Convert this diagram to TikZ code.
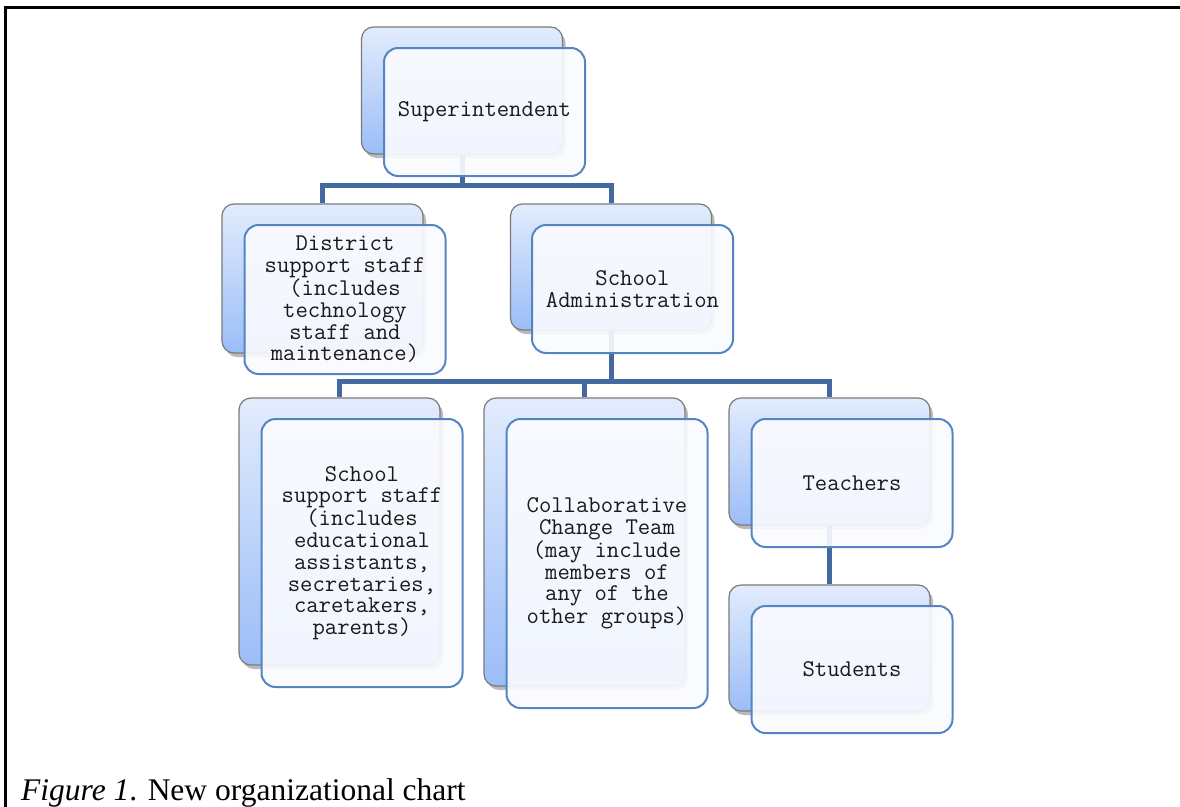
\documentclass[tikz,border=0pt]{standalone}
\usepackage{fontspec}
\setmainfont{Liberation Serif}
\usetikzlibrary{shadows}
\pgfdeclarelayer{bg}
\pgfsetlayers{bg,main}
\definecolor{conn}{HTML}{44699F}
\definecolor{backtop}{HTML}{E2ECFD}
\definecolor{backbot}{HTML}{9BBDF7}
\definecolor{backedge}{HTML}{7A7A7A}
\definecolor{frontedge}{HTML}{5485C2}
\definecolor{frontfill}{HTML}{FAFBFF}
\definecolor{txt}{HTML}{1A1A1A}
\tikzset{
  backbox/.style={draw=backedge, line width=1.2pt, rounded corners=12pt,
    top color=backtop, bottom color=backbot, minimum width=201pt,
    inner sep=0pt,
    drop shadow={shadow xshift=3pt, shadow yshift=-4pt, opacity=0.45, fill=black!60}},
  frontbox/.style={draw=frontedge, line width=2pt, rounded corners=14pt,
    fill=frontfill, fill opacity=0.91, text opacity=1, minimum width=201pt,
    inner sep=0pt, align=center, text=txt,
    font=\ttfamily\fontsize{24}{21.7}\selectfont},
  connector/.style={draw=conn, line width=5pt}
}
\begin{document}
\begin{tikzpicture}[x=1pt,y=-1pt]
\useasboundingbox (0,0) rectangle (1180,806);
% frame
\draw[line width=3pt, line cap=rect] (1180,7) -- (5,7) -- (5,810);
% Superintendent
\node[backbox, minimum height=127pt] (supb) at (462,90.5) {};
\node[frontbox, minimum height=128pt] (sup) at (484.5,112) {Superintendent};
% District
\node[backbox, minimum height=149pt] (distb) at (322.5,278.5) {};
\node[frontbox, minimum height=149pt] (dist) at (345,299.5) {District\\support staff\\(includes\\technology\\staff and\\maintenance)};
% School Administration
\node[backbox, minimum height=126pt] (admb) at (611,267) {};
\node[frontbox, minimum height=128pt] (adm) at (632.5,289) {School\\Administration};
% School support staff
\node[backbox, minimum height=267pt] (ssb) at (339.5,531.5) {};
\node[frontbox, minimum height=268pt] (ss) at (362,553) {School\\support staff\\(includes\\educational\\assistants,\\secretaries,\\caretakers,\\parents)};
% Collaborative Change Team
\node[backbox, minimum height=288pt] (ctb) at (584.5,542) {};
\node[frontbox, minimum height=289pt] (ct) at (607,563.5) {Collaborative\\Change Team\\(may include\\members of\\any of the\\other groups)};
% Teachers
\node[backbox, minimum height=127pt] (teab) at (829.5,461.5) {};
\node[frontbox, minimum height=128pt] (tea) at (852,483) {Teachers};
% Students
\node[backbox, minimum height=126pt] (stub) at (829.5,648) {};
\node[frontbox, minimum height=127pt] (stu) at (852,669.5) {Students};
% junctions
\coordinate (j1) at (462,185);
\coordinate (j2) at (611,381);
\begin{pgfonlayer}{bg}
\draw[connector] (supb.south) -- (j1);
\draw[connector] (j1) -| (distb.north);
\draw[connector] (j1) -| (admb.north);
\draw[connector] (admb.south) -- (j2);
\draw[connector] (j2) -| (ssb.north);
\draw[connector] (j2) -| (ctb.north);
\draw[connector] (j2) -| (teab.north);
\draw[connector] (teab.south) -- (stub.north);
\end{pgfonlayer}
% caption
\node[anchor=base west, inner sep=0pt, font=\fontsize{31.5}{34}\selectfont] (cap) at (21,800) {\textit{Figure 1}. New organizational chart};
\end{tikzpicture}
\end{document}
